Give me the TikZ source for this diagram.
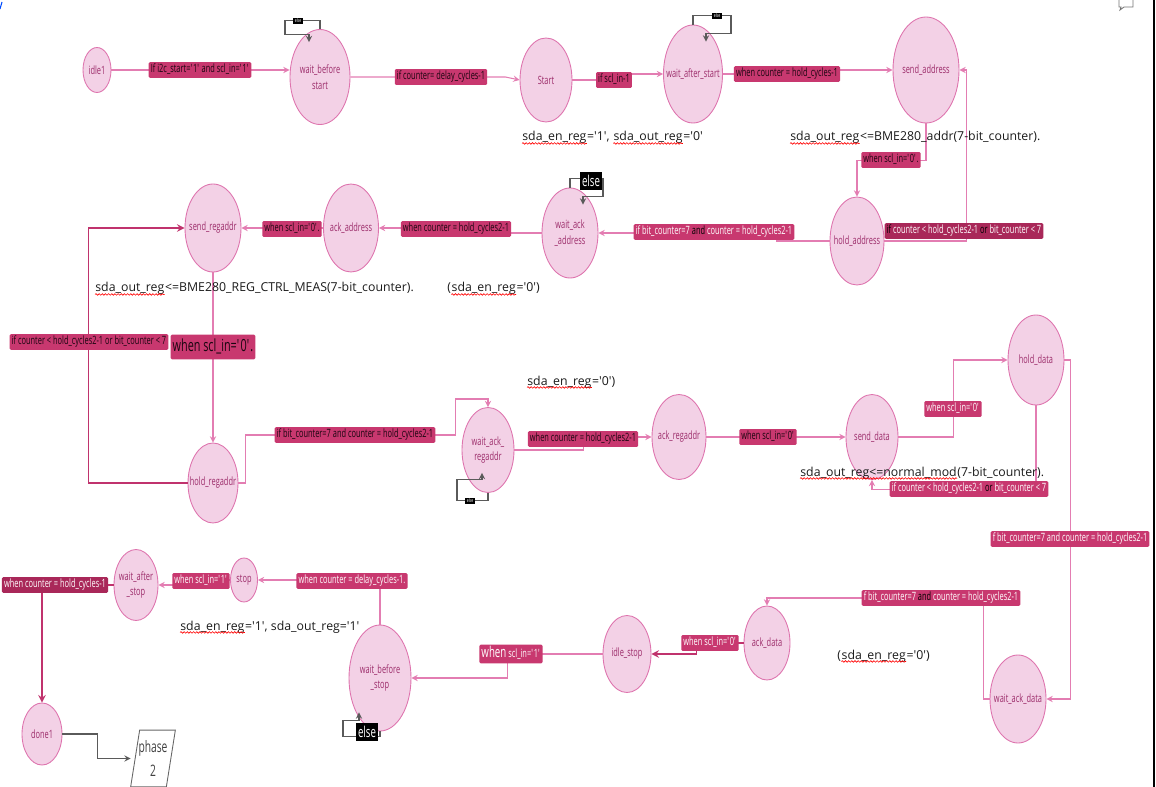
\documentclass[tikz,border=0pt]{standalone}
\usepackage{fontspec}
\setmainfont{Open Sans}
\newfontfamily\condfont[FakeStretch=0.65]{Open Sans}
\usetikzlibrary{shapes.geometric,decorations.pathmorphing}
\newcommand\sq{\textquotesingle}
\newcommand\nm[1]{\makebox[0pt]{#1}}

\begin{document}
\begin{tikzpicture}[x=0.02cm, y=-0.02cm,
    state/.style={ellipse, draw=st_draw, fill=st_fill, line width=0.5pt, inner sep=0pt, align=center, text=st_text, font=\condfont\fontsize{6.5}{9}\selectfont},
    sz/.style 2 args={minimum width=#1*0.02cm, minimum height=#2*0.02cm},
    edge/.style={draw=ln_pink, line width=0.6pt, -stealth},
    edgedark/.style={edge, draw=ln_dark, line width=0.9pt},
    loopline/.style={draw=loop_gray, line width=0.6pt, -stealth},
    lbl/.style={fill=lb_fill, rounded corners=0.8pt, inner xsep=1.2pt, inner ysep=1.3pt, text height=4.9pt, text depth=1.6pt, text=lb_text, font=\condfont\fontsize{6.5}{7}\selectfont},
    lblw/.style={lbl, text=white},
    lblbig/.style={lbl, inner ysep=2.4pt, text height=7pt, text depth=2.3pt, font=\condfont\fontsize{9.5}{10}\selectfont},
    elsetiny/.style={fill=black, text=white, inner sep=0.8pt, font=\condfont\fontsize{3}{3}\selectfont},
    elsebig/.style={fill=black, text=white, inner xsep=1pt, inner ysep=1.6pt, font=\condfont\fontsize{8.5}{9}\selectfont},
    note/.style={anchor=base west, inner sep=0pt, text=note_text, font=\fontsize{7}{8}\selectfont},
    wave/.style={draw=red, line width=0.35pt, decorate, decoration={snake, amplitude=0.45pt, segment length=1.8pt}}]
    \definecolor{st_fill}{HTML}{F3D1E6}
    \definecolor{st_draw}{HTML}{DE74AE}
    \definecolor{st_text}{HTML}{9C2C6A}
    \definecolor{lb_fill}{HTML}{C8386F}
    \definecolor{lb_dark}{HTML}{A92859}
    \definecolor{lb_text}{HTML}{1A0510}
    \definecolor{ln_pink}{HTML}{E37DB2}
    \definecolor{ln_dark}{HTML}{C0336D}
    \definecolor{loop_gray}{HTML}{5A5A5A}
    \definecolor{note_text}{HTML}{1A1A1A}
    \useasboundingbox (0,0) rectangle (1156,787);
    %\draw[help lines] (0,0) grid (1156,787);

    % states
    \node[state, sz={28}{45}] (idle1) at (97,70) {\nm{idle1}};
    \node[state, sz={60}{95}] (wbstart) at (320,77) {\nm{wait\_before}\\\nm{start}};
    \node[state, sz={52}{84}] (start) at (546,80) {\nm{Start}};
    \node[state, sz={59}{98}] (wastart) at (693,74) {\nm{wait\_after\_start}};
    \node[state, sz={66}{106}] (sendaddr) at (926,70) {\nm{send\_address}};
    \node[state, sz={54}{88}] (holdaddr) at (857,241) {\nm{hold\_address}};
    \node[state, sz={56}{90}] (waitackaddr) at (570,233) {\nm{wait\_ack}\\\nm{\_address}};
    \node[state, sz={55}{88}] (ackaddr) at (351,228) {\nm{ack\_address}};
    \node[state, sz={56}{88}] (sendreg) at (213,228) {\nm{send\_regaddr}};
    \node[state, sz={50}{80}] (holdreg) at (213,483) {\nm{hold\_regaddr}};
    \node[state, sz={52}{85}] (waitackreg) at (488,450) {\nm{wait\_ack\_}\\\nm{regaddr}};
    \node[state, sz={54}{85}] (ackreg) at (679,437) {\nm{ack\_regaddr}};
    \node[state, sz={52}{85}] (senddata) at (872,437) {\nm{send\_data}};
    \node[state, sz={56}{90}] (holddata) at (1036,360) {\nm{hold\_data}};
    \node[state, sz={56}{88}] (waitackdata) at (1018,699) {\nm{wait\_ack\_data}};
    \node[state, sz={46}{74}] (ackdata) at (767,643) {\nm{ack\_data}};
    \node[state, sz={48}{77}] (idlestop) at (627,654) {\nm{idle\_stop}};
    \node[state, sz={62}{106}] (wbstop) at (380,678) {\nm{wait\_before}\\\nm{\_stop}};
    \node[state, sz={27}{44}] (stop) at (244,580) {\nm{stop}};
    \node[state, sz={44}{71}] (wastop) at (136,585) {\nm{wait\_after}\\\nm{\_stop}};
    \node[state, sz={40}{62}] (done1) at (42,734) {\nm{done1}};
    \node[sz={44}{56}, inner sep=0pt, align=center, text=black!75, font=\condfont\fontsize{9}{14}\selectfont] (phase2) at (153,758.5) {phase\\2};
    \draw[black!60, line width=0.5pt] ([xshift=0.18cm]phase2.north west) -- (phase2.north east) -- ([xshift=-0.18cm]phase2.south east) -- (phase2.south west) -- cycle;

    % transitions
    \draw[edge] (idle1.east) -- (idle1.east -| wbstart.west);
    \draw[edge] (wbstart.east) -- ++(155,0) -- (start.west);
    \draw[edge] (start.east) -- ++(42,0) |- (wastart.west);
    \draw[edge] (wastart.east) -- ++(30,0) |- (sendaddr.west);
    \draw[edge] (sendaddr.south) -- ++(0,37) -| (holdaddr.north);
    \draw[edge] (holdaddr.east) -- ++(82,0) |- (sendaddr.east);
    \draw[edge] (holdaddr.west) -- ++(-53,0) |- (waitackaddr.east);
    \draw[edge] (waitackaddr.west) -- ++(-60,0) |- (ackaddr.east);
    \draw[edge] (ackaddr.west) -- (sendreg.east);
    \draw[edge] (sendreg.south) -- (holdreg.north);
    \draw[edgedark] (holdreg.west) -- ++(-99,0) |- (sendreg.west);
    \draw[edge] (holdreg.east) -- ++(7,0) -- ++(0,-48) -- ++(210,0) -- ++(0,-36) -| (waitackreg.north);
    \draw[edge] (waitackreg.east) -- ++(69,0) |- (ackreg.west);
    \draw[edge] (ackreg.east) -- (senddata.west);
    \draw[edge] (senddata.east) -- ++(55,0) |- (holddata.west);
    \draw[edge] (holddata.south) -- ++(0,84) -| (senddata.south);
    \draw[edge] (holddata.east) -- ++(6,0) |- (waitackdata.east);
    \draw[edge] (waitackdata.west) -- ++(-6,0) -- ++(0,-101) -| (ackdata.north);
    \draw[edgedark] (ackdata.west) -- ++(-47,0) |- (idlestop.east);
    \draw[edge] (idlestop.west) -- ++(-95,0) |- (wbstop.east);
    \draw[edge] (wbstop.north) |- (stop.east);
    \draw[edge] (stop.west) -- ++(-30,0) |- (wastop.east);
    \draw[edgedark] (wastop.west) -| (done1.north);
    \draw[loopline] (done1.east) -- ++(35,0) |- (phase2.west);

    % self loops
    \draw[loopline] (wbstart.north) -- ++(0,-9) -- ++(-35,0) -- ++(0,14) -- ++(24,0) -- ++(0,8);
    \draw[loopline] (wastart.north) -- ++(0,-9) -- ++(38,0) -- ++(0,18) -- ++(-25,0) -- ++(0,8);
    \draw[loopline] (waitackaddr.north) -- ++(0,-9) -- ++(33,0) -- ++(0,18) -- ++(-20,0) -- ++(0,8);
    \draw[loopline] (waitackreg.south) -- ++(0,8) -- ++(-31,0) -- ++(0,-21) -- ++(25,0) -- ++(0,-7);
    \draw[loopline] (wbstop.south) -- ++(0,5) -- ++(-37,0) -- ++(0,-16) -- ++(16,0) -- ++(0,-8);
    \node[elsetiny] (else1) at (298,21) {else};
    \node[elsetiny] (else2) at (717,16) {else};
    \node[elsebig] (else3) at (591,181) {else};
    \node[elsetiny] (else4) at (470,501) {else};
    \node[elsebig] (else5) at (367,732) {else};

    % conditions
    \node[lbl] (c1) at (200,70) {If i2c\_start=\sq1\sq{} and scl\_in=\sq1\sq};
    \node[lbl] (c2) at (441,77) {if counter= delay\_cycles-1};
    \node[lbl] (c3) at (614,80) {if scl\_in-1};
    \node[lbl] (c4) at (787,74) {when counter = hold\_cycles-1};
    \node[lbl] (c5) at (891,160) {when scl\_in=\sq0\sq.};
    \node[lblw, fill=lb_dark] (c6) at (964,231) {{\color{black}if} counter < hold\_cycles2-1 {\color{black}or} bit\_counter < 7};
    \node[lblw] (c7) at (714,232) {if bit\_counter=7 {\color{black}and} counter = hold\_cycles2-1};
    \node[lbl] (c8) at (456,229) {when counter = hold\_cycles2-1};
    \node[lbl] (c9) at (292,229) {when scl\_in=\sq0\sq.};
    \node[lbl] (c10) at (89,342) {if counter < hold\_cycles2-1 or bit\_counter < 7};
    \node[lblbig] (c11) at (213,347) {when scl\_in=\sq0\sq.};
    \node[lbl] (c12) at (355,435) {if bit\_counter=7 and counter = hold\_cycles2-1};
    \node[lbl] (c13) at (583,439) {when counter = hold\_cycles2-1};
    \node[lbl] (c14) at (768,437) {when scl\_in=\sq0\sq};
    \node[lblw] (c15) at (953,409) {when scl\_in=\sq0\sq};
    \node[lblw] (c16) at (969,489) {if counter < hold\_cycles2-1 {\color{black}or} bit\_counter < 7};
    \node[lblw] (c17) at (1070,539) {f bit\_counter=7 and counter = hold\_cycles2-1};
    \node[lblw] (c18) at (941,598) {f bit\_counter=7 {\color{black}and} counter = hold\_cycles2-1};
    \node[lblw] (c19) at (710,643) {when scl\_in=\sq0\sq};
    \node[lblw, text height=6.2pt, text depth=1.8pt] (c20) at (511,654) {{\fontsize{8.5}{9}\selectfont when} scl\_in=\sq1\sq};
    \node[lblw] (c21) at (352,581) {when counter = delay\_cycles-1.};
    \node[lblw] (c22) at (201,581) {when scl\_in=\sq1\sq};
    \node[lblw, fill=lb_dark] (c23) at (55,585) {when counter = hold\_cycles-1};

    % register notes, spell-check waves under the signal names
    \node[note] (n1a) at (522,141) {sda\_en\_reg};
    \node[note] (n1b) at (n1a.base east) {=\sq1\sq,\ \mbox{}};
    \node[note] (n1c) at (n1b.base east) {sda\_out\_reg};
    \node[note] (n1d) at (n1c.base east) {=\sq0\sq};
    \node[note] (n2a) at (790,141) {sda\_out\_reg};
    \node[note] (n2b) at (n2a.base east) {<=BME280\_addr(7-bit\_counter).};
    \node[note] (n3a) at (95,292) {sda\_out\_reg};
    \node[note] (n3b) at (n3a.base east) {<=BME280\_REG\_CTRL\_MEAS(7-bit\_counter).};
    \node[note] (n4a) at (447,292) {(};
    \node[note] (n4b) at (n4a.base east) {sda\_en\_reg};
    \node[note] (n4c) at (n4b.base east) {=\sq0\sq)};
    \node[note] (n5a) at (527,385) {sda\_en\_reg};
    \node[note] (n5b) at (n5a.base east) {=\sq0\sq)};
    \node[note] (n6a) at (800,476) {sda\_out\_reg<=normal\_mod};
    \node[note] (n6b) at (n6a.base east) {(7-bit\_counter).};
    \node[note] (n7a) at (837,659) {(};
    \node[note] (n7b) at (n7a.base east) {sda\_en\_reg};
    \node[note] (n7c) at (n7b.base east) {=\sq0\sq)};
    \node[note] (n8a) at (180,630) {sda\_en\_reg};
    \node[note] (n8b) at (n8a.base east) {=\sq1\sq, sda\_out\_reg=\sq1\sq};
    \draw[wave] ([yshift=-1.4pt]n1a.base west) -- ([yshift=-1.4pt]n1a.base east);
    \draw[wave] ([yshift=-1.4pt]n1c.base west) -- ([yshift=-1.4pt]n1c.base east);
    \draw[wave] ([yshift=-1.4pt]n2a.base west) -- ([yshift=-1.4pt]n2a.base east);
    \draw[wave] ([yshift=-1.4pt]n3a.base west) -- ([yshift=-1.4pt]n3a.base east);
    \draw[wave] ([yshift=-1.4pt]n4b.base west) -- ([yshift=-1.4pt]n4b.base east);
    \draw[wave] ([yshift=-1.4pt]n5a.base west) -- ([yshift=-1.4pt]n5a.base east);
    \draw[wave] ([yshift=-1.4pt]n6a.base west) -- ([yshift=-1.4pt]n6a.base east);
    \draw[wave] ([yshift=-1.4pt]n7b.base west) -- ([yshift=-1.4pt]n7b.base east);
    \draw[wave] ([yshift=-1.4pt]n8a.base west) -- ([yshift=-1.4pt]n8a.base east);

    % window edge
    \draw[line width=1.2pt] (1154,0) -- (1154,787);
    \draw[black!55, line width=0.5pt] (1119,0) -- (1119,7) -- (1121,7) -- (1120,10) -- (1124,7) -- (1133,7) -- (1133,0);
    \draw[blue!70!cyan, line width=0.6pt] (0,9) -- (2,2);
\end{tikzpicture}
\end{document}
